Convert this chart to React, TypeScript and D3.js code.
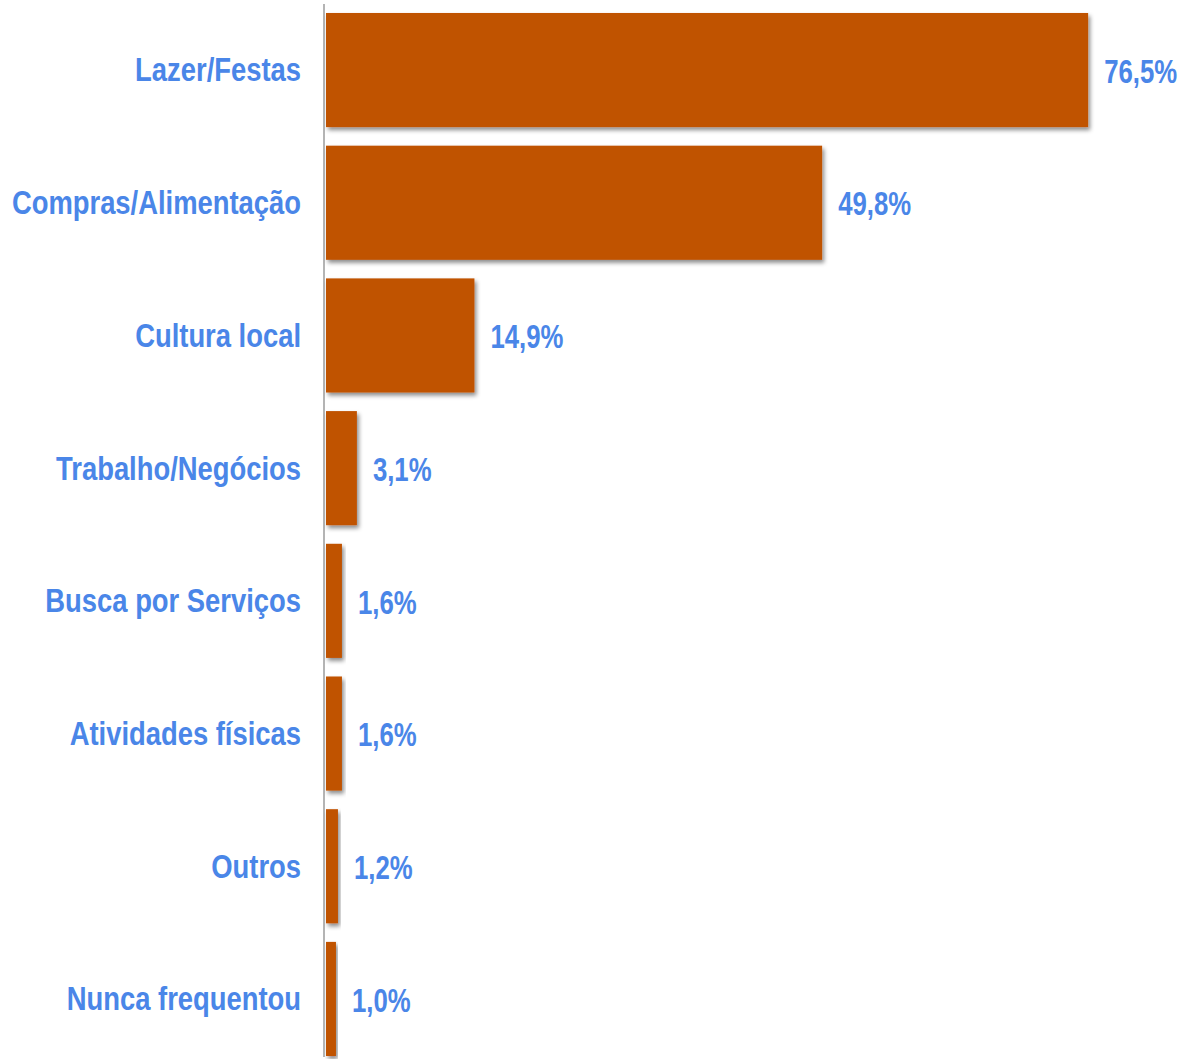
import React from "react";
import * as d3 from "d3";

const categories = [
  "Lazer/Festas",
  "Compras/Alimentação",
  "Cultura local",
  "Trabalho/Negócios",
  "Busca por Serviços",
  "Atividades físicas",
  "Outros",
  "Nunca frequentou",
];
const values = [76.5, 49.8, 14.9, 3.1, 1.6, 1.6, 1.2, 1.0];
const valueLabels = ["76,5%", "49,8%", "14,9%", "3,1%", "1,6%", "1,6%", "1,2%", "1,0%"];

const W = 1184;
const H = 1059;
const BAR = "#c05200";
const TXT = "#4a86e8";
const FONT = "'Liberation Sans', Arial, sans-serif";
const SX = 0.83;

export default function App() {
  const x = d3.scaleLinear().domain([0, 80]).range([326, 1123]);
  const y = d3
    .scaleBand<string>()
    .domain(categories)
    .range([3.7, 3.7 + 132.7 * categories.length])
    .paddingInner(0.14)
    .paddingOuter(0.07);

  return (
    <svg
      width={W}
      height={H}
      style={{ position: "absolute", left: 0, top: 0, display: "block", background: "#fff" }}
    >
      <defs>
        <filter id="sh" x="-10%" y="-10%" width="130%" height="130%">
          <feDropShadow dx="2" dy="3" stdDeviation="2" floodColor="#000" floodOpacity="0.45" />
        </filter>
      </defs>
      <line x1={324} x2={324} y1={4} y2={1057} stroke="#b4b4b4" strokeWidth={2} />
      {categories.map((c, i) => {
        const yy = y(c)!;
        const bw = y.bandwidth();
        const cy = yy + bw / 2;
        const xe = x(values[i]);
        return (
          <g key={c}>
            <rect x={x(0)} y={yy} width={xe - x(0)} height={bw} fill={BAR} filter="url(#sh)" />
            <text
              transform={`translate(301,${cy}) scale(${SX},1)`}
              textAnchor="end"
              dominantBaseline="central"
              fill={TXT}
              fontFamily={FONT}
              fontWeight="bold"
              fontSize={33}
            >
              {c}
            </text>
            <text
              transform={`translate(${xe + 16},${cy + 1}) scale(0.78,1)`}
              textAnchor="start"
              dominantBaseline="central"
              fill={TXT}
              fontFamily={FONT}
              fontWeight="bold"
              fontSize={33}
            >
              {valueLabels[i]}
            </text>
          </g>
        );
      })}
    </svg>
  );
}
